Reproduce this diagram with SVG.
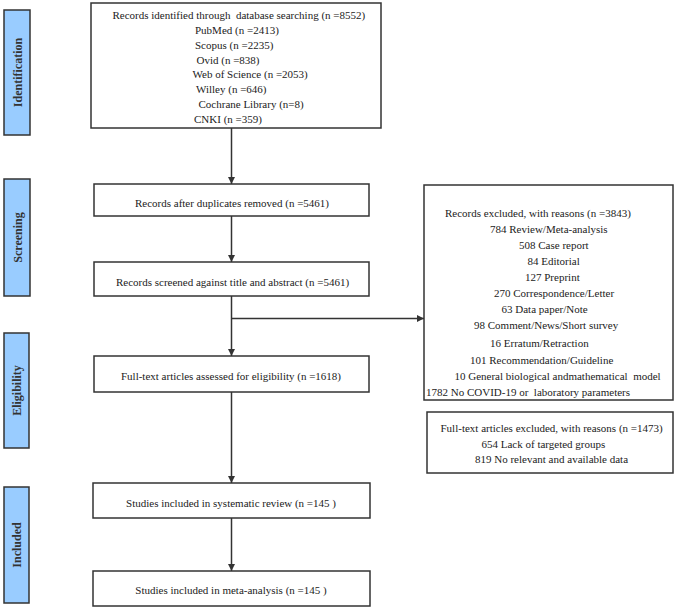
<svg xmlns="http://www.w3.org/2000/svg" width="676" height="609" viewBox="0 0 676 609">
<defs>
<style>
.box{fill:#fff;stroke:#333;stroke-width:1.5}
.lab{fill:#99ccff;stroke:#333;stroke-width:1.5}
.t{font-family:"Liberation Serif","Times New Roman",serif;font-size:11px;fill:#222;white-space:pre}
.c{text-anchor:middle}
.lt{font-family:"Liberation Serif","Times New Roman",serif;font-size:12px;font-weight:bold;fill:#333;text-anchor:middle}
.ln{stroke:#333;stroke-width:1.5;fill:none}
</style>
<marker id="ah" viewBox="0 0 10 10" refX="10" refY="5" markerWidth="7" markerHeight="7" markerUnits="userSpaceOnUse" orient="auto"><path d="M0,0 L10,5 L0,10 z" fill="#333"/></marker>
</defs>
<rect width="676" height="609" fill="#fff"/>
<g id="label-identification"><rect class="lab" x="4" y="10" width="26" height="125"/><text class="lt" transform="translate(21.5,72.5) rotate(-90)">Identification</text></g>
<g id="label-screening"><rect class="lab" x="4" y="179" width="26" height="117"/><text class="lt" transform="translate(21.5,237.5) rotate(-90)">Screening</text></g>
<g id="label-eligibility"><rect class="lab" x="4" y="333" width="25" height="115"/><text class="lt" transform="translate(21,390.5) rotate(-90)">Eligibility</text></g>
<g id="label-included"><rect class="lab" x="4" y="487" width="25" height="116"/><text class="lt" transform="translate(21,545) rotate(-90)">Included</text></g>
<g id="connectors">
<line class="ln" x1="231.5" y1="128" x2="231.5" y2="184" marker-end="url(#ah)"/>
<line class="ln" x1="231.5" y1="216" x2="231.5" y2="262" marker-end="url(#ah)"/>
<line class="ln" x1="231.5" y1="296" x2="231.5" y2="356" marker-end="url(#ah)"/>
<line class="ln" x1="231.5" y1="318.5" x2="424" y2="318.5" marker-end="url(#ah)"/>
<line class="ln" x1="231.5" y1="392" x2="231.5" y2="483" marker-end="url(#ah)"/>
<line class="ln" x1="231.5" y1="518" x2="231.5" y2="571" marker-end="url(#ah)"/>
</g>
<g id="records-identified"><rect class="box" x="91" y="3" width="290" height="125"/>
<text class="t" x="112.5" y="19" xml:space="preserve">Records identified through  database searching (n =8552)</text>
<text class="t" x="195" y="34">PubMed (n =2413)</text>
<text class="t" x="195" y="48.5">Scopus (n =2235)</text>
<text class="t" x="196.5" y="64">Ovid (n =838)</text>
<text class="t" x="192.5" y="78">Web of Science (n =2053)</text>
<text class="t" x="196" y="93">Willey (n =646)</text>
<text class="t" x="198.5" y="108">Cochrane Library (n=8)</text>
<text class="t" x="194" y="123">CNKI (n =359)</text>
</g>
<g id="after-duplicates"><rect class="box" x="94" y="184" width="275" height="32"/><text class="t c" x="232" y="206.5">Records after duplicates removed (n =5461)</text></g>
<g id="screened"><rect class="box" x="94" y="262" width="275" height="34"/><text class="t c" x="232.5" y="285.5">Records screened against title and abstract (n =5461)</text></g>
<g id="fulltext-assessed"><rect class="box" x="94" y="356" width="275" height="36"/><text class="t c" x="231" y="379.5">Full-text articles assessed for eligibility (n =1618)</text></g>
<g id="systematic-review"><rect class="box" x="93" y="483" width="277" height="35"/><text class="t c" x="231" y="507">Studies included in systematic review (n =145 )</text></g>
<g id="meta-analysis"><rect class="box" x="93" y="571" width="277" height="35"/><text class="t c" x="231" y="594">Studies included in meta-analysis (n =145 )</text></g>
<g id="records-excluded"><rect class="box" x="424" y="185" width="249" height="215"/>
<text class="t" x="445" y="217">Records excluded, with reasons (n =3843)</text>
<text class="t" x="490" y="233">784 Review/Meta-analysis</text>
<text class="t" x="519" y="249">508 Case report</text>
<text class="t" x="527.5" y="265">84 Editorial</text>
<text class="t" x="525" y="280.5">127 Preprint</text>
<text class="t" x="494" y="297">270 Correspondence/Letter</text>
<text class="t" x="501.5" y="313">63 Data paper/Note</text>
<text class="t" x="474" y="329">98 Comment/News/Short survey</text>
<text class="t" x="490" y="347">16 Erratum/Retraction</text>
<text class="t" x="470" y="364">101 Recommendation/Guideline</text>
<text class="t" x="454.5" y="379.5" xml:space="preserve">10 General biological andmathematical  model</text>
<text class="t" x="426" y="395.5" xml:space="preserve">1782 No COVID-19 or  laboratory parameters</text>
</g>
<g id="fulltext-excluded"><rect class="box" x="427" y="412" width="246" height="61"/>
<text class="t" x="440.5" y="432">Full-text articles excluded, with reasons (n =1473)</text>
<text class="t" x="481.5" y="447.5">654 Lack of targeted groups</text>
<text class="t" x="475" y="463">819 No relevant and available data</text>
</g>
</svg>
